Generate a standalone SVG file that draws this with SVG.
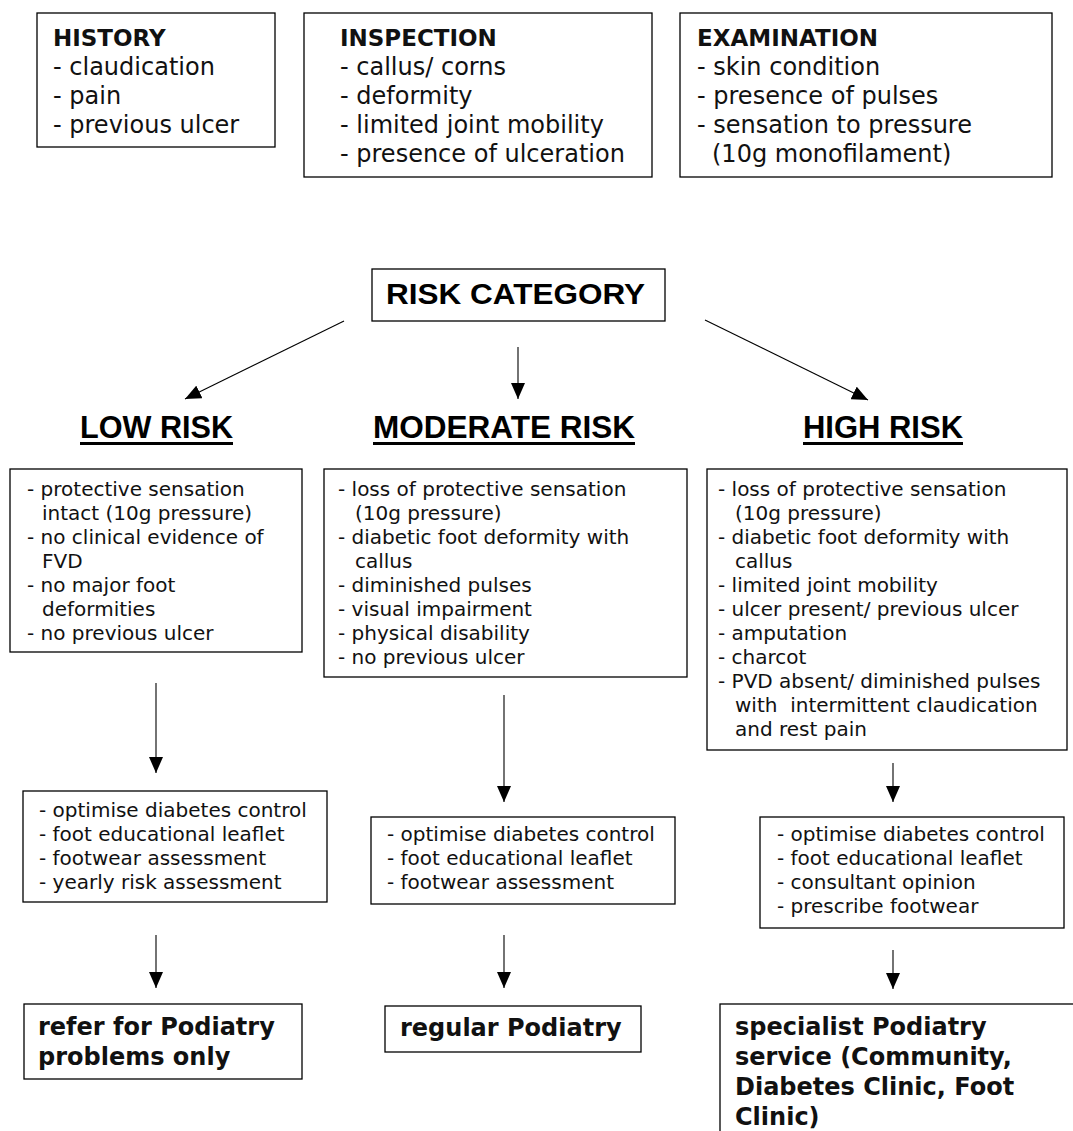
<svg xmlns="http://www.w3.org/2000/svg" width="1073" height="1131" viewBox="0 0 1073 1131">
  <style>
    .box { fill: #fff; stroke: #000; stroke-width: 1.3; }
    .t { font-family: "DejaVu Sans", Verdana, sans-serif; fill: #111; }
    .big { font-size: 24px; }
    .hd { font-size: 23px; font-weight: bold; }
    .sm { font-size: 20px; }
    .fin { font-size: 24px; font-weight: bold; }
    .cat { font-family: "Liberation Sans", Arial, sans-serif; font-weight: bold; fill: #000; }
    .edge { stroke: #000; stroke-width: 1.1; fill: none; marker-end: url(#arrow); }
  </style>
  <defs>
    <marker id="arrow" markerUnits="userSpaceOnUse" viewBox="0 0 16 14" refX="16" refY="7" markerWidth="16" markerHeight="14" orient="auto">
      <path d="M0,0 L16,7 L0,14 z" fill="#000"/>
    </marker>
  </defs>
  <rect width="1073" height="1131" fill="#fff"/>

  <!-- assessment boxes -->
  <g id="history">
    <rect class="box" x="37" y="13" width="238" height="134"/>
    <text class="t hd" x="53" y="46">HISTORY</text>
    <text class="t big" x="53" y="75">- claudication</text>
    <text class="t big" x="53" y="104">- pain</text>
    <text class="t big" x="53" y="133">- previous ulcer</text>
  </g>
  <g id="inspection">
    <rect class="box" x="304" y="13" width="348" height="164"/>
    <text class="t hd" x="340" y="46">INSPECTION</text>
    <text class="t big" x="340" y="75">- callus/ corns</text>
    <text class="t big" x="340" y="104">- deformity</text>
    <text class="t big" x="340" y="133">- limited joint mobility</text>
    <text class="t big" x="340" y="162">- presence of ulceration</text>
  </g>
  <g id="examination">
    <rect class="box" x="680" y="13" width="372" height="164"/>
    <text class="t hd" x="697" y="46">EXAMINATION</text>
    <text class="t big" x="697" y="75">- skin condition</text>
    <text class="t big" x="697" y="104">- presence of pulses</text>
    <text class="t big" x="697" y="133">- sensation to pressure</text>
    <text class="t big" x="712" y="162">(10g monofilament)</text>
  </g>

  <!-- central category -->
  <g id="risk-category">
    <rect class="box" x="372" y="269" width="293" height="52"/>
    <text class="cat" x="386" y="304" font-size="29" textLength="259" lengthAdjust="spacingAndGlyphs">RISK CATEGORY</text>
  </g>

  <!-- risk headings -->
  <g id="low-risk">
    <text class="cat" x="80" y="438" font-size="31" textLength="153" lengthAdjust="spacingAndGlyphs">LOW RISK</text>
    <rect x="80" y="442" width="153" height="3" fill="#000"/>
  </g>
  <g id="moderate-risk">
    <text class="cat" x="373" y="438" font-size="31" textLength="262" lengthAdjust="spacingAndGlyphs">MODERATE RISK</text>
    <rect x="373" y="442" width="262" height="3" fill="#000"/>
  </g>
  <g id="high-risk">
    <text class="cat" x="803" y="438" font-size="31" textLength="160" lengthAdjust="spacingAndGlyphs">HIGH RISK</text>
    <rect x="803" y="442" width="160" height="3" fill="#000"/>
  </g>

  <!-- criteria boxes -->
  <g id="low-criteria">
    <rect class="box" x="10" y="469" width="292" height="183"/>
    <text class="t sm" x="27" y="496">- protective sensation</text>
    <text class="t sm" x="42" y="520">intact (10g pressure)</text>
    <text class="t sm" x="27" y="544">- no clinical evidence of</text>
    <text class="t sm" x="42" y="568">FVD</text>
    <text class="t sm" x="27" y="592">- no major foot</text>
    <text class="t sm" x="42" y="616">deformities</text>
    <text class="t sm" x="27" y="640">- no previous ulcer</text>
  </g>
  <g id="moderate-criteria">
    <rect class="box" x="324" y="469" width="363" height="208"/>
    <text class="t sm" x="338" y="496">- loss of protective sensation</text>
    <text class="t sm" x="355" y="520">(10g pressure)</text>
    <text class="t sm" x="338" y="544">- diabetic foot deformity with</text>
    <text class="t sm" x="355" y="568">callus</text>
    <text class="t sm" x="338" y="592">- diminished pulses</text>
    <text class="t sm" x="338" y="616">- visual impairment</text>
    <text class="t sm" x="338" y="640">- physical disability</text>
    <text class="t sm" x="338" y="664">- no previous ulcer</text>
  </g>
  <g id="high-criteria">
    <rect class="box" x="707" y="469" width="360" height="281"/>
    <text class="t sm" x="718" y="496">- loss of protective sensation</text>
    <text class="t sm" x="735" y="520">(10g pressure)</text>
    <text class="t sm" x="718" y="544">- diabetic foot deformity with</text>
    <text class="t sm" x="735" y="568">callus</text>
    <text class="t sm" x="718" y="592">- limited joint mobility</text>
    <text class="t sm" x="718" y="616">- ulcer present/ previous ulcer</text>
    <text class="t sm" x="718" y="640">- amputation</text>
    <text class="t sm" x="718" y="664">- charcot</text>
    <text class="t sm" x="718" y="688">- PVD absent/ diminished pulses</text>
    <text class="t sm" x="735" y="712" style="white-space:pre">with  intermittent claudication</text>
    <text class="t sm" x="735" y="736">and rest pain</text>
  </g>

  <!-- action boxes -->
  <g id="low-actions">
    <rect class="box" x="23" y="791" width="304" height="111"/>
    <text class="t sm" x="39" y="817">- optimise diabetes control</text>
    <text class="t sm" x="39" y="841">- foot educational leaflet</text>
    <text class="t sm" x="39" y="865">- footwear assessment</text>
    <text class="t sm" x="39" y="889">- yearly risk assessment</text>
  </g>
  <g id="moderate-actions">
    <rect class="box" x="371" y="817" width="304" height="87"/>
    <text class="t sm" x="387" y="841">- optimise diabetes control</text>
    <text class="t sm" x="387" y="865">- foot educational leaflet</text>
    <text class="t sm" x="387" y="889">- footwear assessment</text>
  </g>
  <g id="high-actions">
    <rect class="box" x="760" y="817" width="304" height="111"/>
    <text class="t sm" x="777" y="841">- optimise diabetes control</text>
    <text class="t sm" x="777" y="865">- foot educational leaflet</text>
    <text class="t sm" x="777" y="889">- consultant opinion</text>
    <text class="t sm" x="777" y="913">- prescribe footwear</text>
  </g>

  <!-- referral boxes -->
  <g id="low-referral">
    <rect class="box" x="24" y="1004" width="278" height="75"/>
    <text class="t fin" x="38" y="1035">refer for Podiatry</text>
    <text class="t fin" x="38" y="1065">problems only</text>
  </g>
  <g id="moderate-referral">
    <rect class="box" x="385" y="1006" width="256" height="46"/>
    <text class="t fin" x="400" y="1036">regular Podiatry</text>
  </g>
  <g id="high-referral">
    <rect class="box" x="720" y="1004" width="370" height="150"/>
    <text class="t fin" x="735" y="1035">specialist Podiatry</text>
    <text class="t fin" x="735" y="1065">service (Community,</text>
    <text class="t fin" x="735" y="1095">Diabetes Clinic, Foot</text>
    <text class="t fin" x="735" y="1125">Clinic)</text>
  </g>

  <!-- connectors -->
  <g id="connectors">
    <line class="edge" x1="344" y1="321" x2="185" y2="399"/>
    <line class="edge" x1="518" y1="347" x2="518" y2="399"/>
    <line class="edge" x1="705" y1="320" x2="868" y2="400"/>
    <line class="edge" x1="156" y1="683" x2="156" y2="773"/>
    <line class="edge" x1="504" y1="695" x2="504" y2="802"/>
    <line class="edge" x1="893" y1="763" x2="893" y2="802"/>
    <line class="edge" x1="156" y1="935" x2="156" y2="988"/>
    <line class="edge" x1="504" y1="935" x2="504" y2="988"/>
    <line class="edge" x1="893" y1="950" x2="893" y2="989"/>
  </g>
</svg>
